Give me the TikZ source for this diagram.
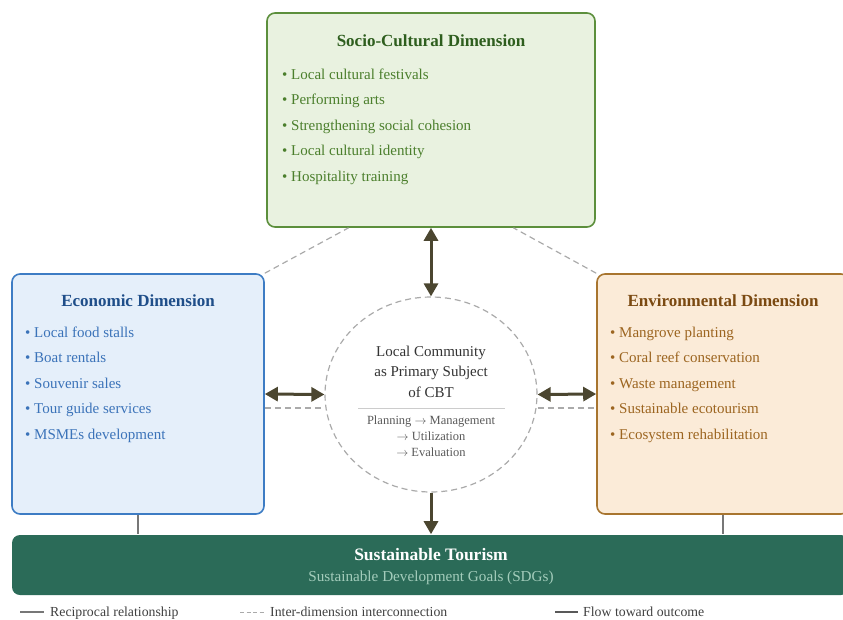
\documentclass[tikz,border=0pt]{standalone}
\usepackage{fontspec}
\setmainfont{Liberation Serif}
\usetikzlibrary{arrows.meta,calc,shapes.geometric}

\definecolor{socioline}{HTML}{5C8F3C}
\definecolor{sociofill}{HTML}{E9F2E0}
\definecolor{sociohead}{HTML}{2E5E1E}
\definecolor{sociotext}{HTML}{4B7F2C}
\definecolor{econline}{HTML}{3D7CC4}
\definecolor{econfill}{HTML}{E5EFFA}
\definecolor{econhead}{HTML}{1F4E89}
\definecolor{econtext}{HTML}{3B73B9}
\definecolor{envline}{HTML}{A8752F}
\definecolor{envfill}{HTML}{FBEBD8}
\definecolor{envhead}{HTML}{7B4A12}
\definecolor{envtext}{HTML}{9C6520}
\definecolor{goalfill}{HTML}{2B6B58}
\definecolor{goalsub}{HTML}{A3CCBB}
\definecolor{flowcol}{HTML}{4B4630}
\definecolor{linkgray}{HTML}{777777}
\definecolor{dashgray}{HTML}{AAAAAA}

\begin{document}
\begin{tikzpicture}[x=1pt, y=-1pt,
    dimbox/.style={draw, line width=1.6pt, rounded corners=8pt, inner sep=0pt},
    dimtitle/.style={anchor=base, inner sep=0pt, font=\fontsize{17}{20}\selectfont\bfseries},
    dimitem/.style={anchor=base west, inner sep=0pt, font=\fontsize{15}{17}\selectfont},
    flow/.style={line width=3pt, draw=flowcol, {Triangle[length=13pt,width=14pt]}-{Triangle[length=13pt,width=14pt]}},
    outflow/.style={line width=3pt, draw=flowcol, -{Triangle[length=13pt,width=14pt]}},
    interlink/.style={dashed, dash pattern=on 6pt off 4pt, line width=1.2pt, draw=dashgray},
    reciprocal/.style={line width=1.6pt, draw=linkgray},
    legend/.style={anchor=base west, inner sep=0pt, text=black!75, font=\fontsize{13.8}{15}\selectfont}]
    \useasboundingbox (0, 0) rectangle (843, 619); % bounding box
    \clip (0, 0) rectangle (843, 619);

    % dimensions
    \node at (431, 120) [dimbox, draw=socioline, fill=sociofill, minimum width=328, minimum height=214] (socio) {};
    \node at (138, 394) [dimbox, draw=econline,  fill=econfill,  minimum width=252, minimum height=240] (econ)  {};
    \node at (723, 394) [dimbox, draw=envline,   fill=envfill,   minimum width=252, minimum height=240] (env)   {};

    % outcome
    \node at (430.5, 565) [dimbox, draw=none, fill=goalfill, minimum width=837, minimum height=60] (goal) {};

    % local community
    \node at (431, 394.5) [ellipse, draw=dashgray, dashed, dash pattern=on 6pt off 4pt, line width=1.2pt, fill=white,
        minimum width=212, minimum height=195] (cbt) {};

    % titles
    \node at (431,  46) [dimtitle, text=sociohead] (socio-title) {Socio-Cultural Dimension};
    \node at (138, 306) [dimtitle, text=econhead]  (econ-title)  {Economic Dimension};
    \node at (723, 306) [dimtitle, text=envhead]   (env-title)   {Environmental Dimension};

    % socio-cultural items
    \begin{scope}[every node/.style={dimitem, text=sociotext}]
        \node at (282,  79.0) (socio1) {• Local cultural festivals};
        \node at (282, 104.5) (socio2) {• Performing arts};
        \node at (282, 130.0) (socio3) {• Strengthening social cohesion};
        \node at (282, 155.5) (socio4) {• Local cultural identity};
        \node at (282, 181.0) (socio5) {• Hospitality training};
    \end{scope}

    % economic items
    \begin{scope}[every node/.style={dimitem, text=econtext}]
        \node at (25, 337.0) (econ1) {• Local food stalls};
        \node at (25, 362.5) (econ2) {• Boat rentals};
        \node at (25, 388.0) (econ3) {• Souvenir sales};
        \node at (25, 413.5) (econ4) {• Tour guide services};
        \node at (25, 439.0) (econ5) {• MSMEs development};
    \end{scope}

    % environmental items
    \begin{scope}[every node/.style={dimitem, text=envtext}]
        \node at (610, 337.0) (env1) {• Mangrove planting};
        \node at (610, 362.5) (env2) {• Coral reef conservation};
        \node at (610, 388.0) (env3) {• Waste management};
        \node at (610, 413.5) (env4) {• Sustainable ecotourism};
        \node at (610, 439.0) (env5) {• Ecosystem rehabilitation};
    \end{scope}

    % community text
    \node at (431, 371.5) [align=center, inner sep=0pt, text=black!80, font=\fontsize{15}{20.5}\selectfont] (cbt-text)
        {Local Community\\as Primary Subject\\of CBT};
    \coordinate (mid) at (431, 408);
    \draw [line width=0.8pt, draw=black!20] (358, 408) -- (505, 408);
    \node at (431, 436) [align=center, inner sep=0pt, text=black!65, font=\fontsize{12.5}{16}\selectfont] (cbt-steps)
        {Planning $\rightarrow$ Management\\$\rightarrow$ Utilization\\$\rightarrow$ Evaluation};

    % outcome text
    \node at (431, 560) [anchor=base, inner sep=0pt, text=white, font=\fontsize{17.5}{20}\selectfont\bfseries] (goal-title)
        {Sustainable Tourism};
    \node at (431, 581) [anchor=base, inner sep=0pt, text=goalsub, font=\fontsize{15.2}{17}\selectfont] (goal-sub)
        {Sustainable Development Goals (SDGs)};

    % inter-dimension links
    \draw [interlink] (econ.north east) -- ($(socio.south west)!0.25!(socio.south east)$);
    \draw [interlink] (env.north west)  -- ($(socio.south west)!0.75!(socio.south east)$);
    \draw [interlink] (econ.east |- mid) -- (cbt.west |- mid);
    \draw [interlink] (cbt.east |- mid)  -- (env.west |- mid);

    % reciprocal relationships
    \draw [flow] (socio.south) -- (cbt.north);
    \draw [flow] (econ.east)   -- (cbt.west);
    \draw [flow] (cbt.east)    -- (env.west);

    % toward outcome
    \draw [outflow]    (cbt.south)  -- (cbt.south |- goal.north);
    \draw [reciprocal] (econ.south) -- (econ.south |- goal.north);
    \draw [reciprocal] (env.south)  -- (env.south |- goal.north);

    % legend
    \coordinate (leg1) at (20, 612);
    \coordinate (leg2) at (240, 612);
    \coordinate (leg3) at (555, 612);
    \draw [reciprocal] (leg1) -- ++(24, 0);
    \node at (50, 616) [legend] (leg1-text) {Reciprocal relationship};
    \draw [interlink, line width=1pt, dash pattern=on 4pt off 2.5pt] (leg2) -- ++(24, 0);
    \node at (270, 616) [legend] (leg2-text) {Inter-dimension interconnection};
    \draw [reciprocal, draw=black!65] (leg3) -- ++(23, 0);
    \node at (583, 616) [legend] (leg3-text) {Flow toward outcome};
\end{tikzpicture}
\end{document}
